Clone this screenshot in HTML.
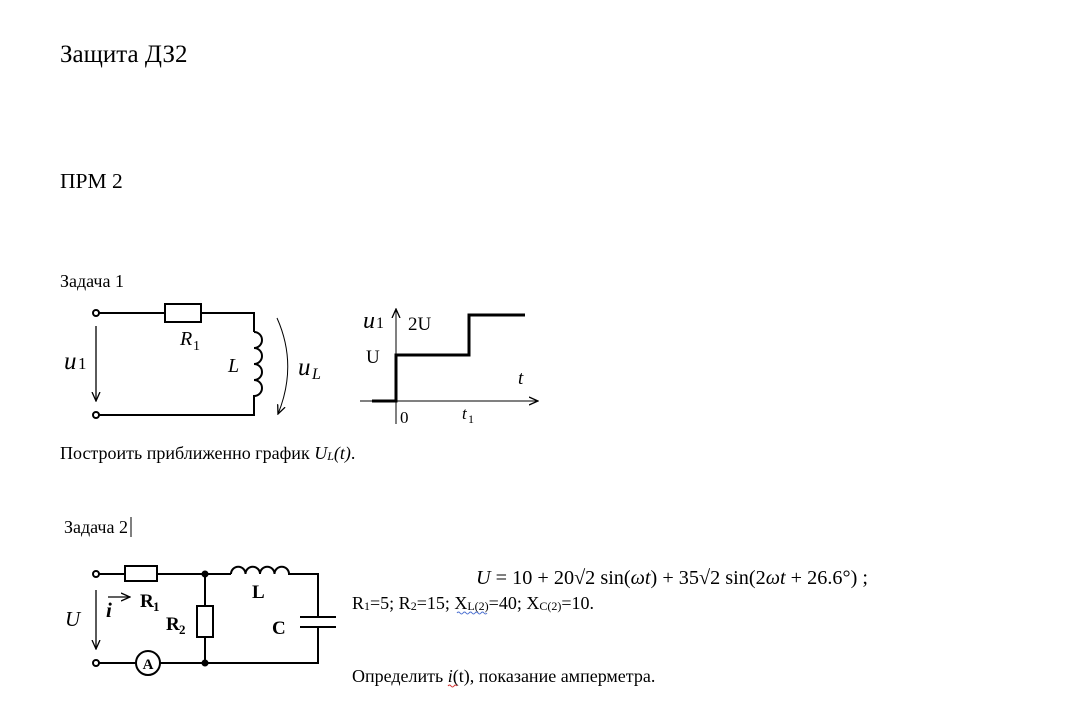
<!DOCTYPE html>
<html><head><meta charset="utf-8"><style>
html,body{margin:0;padding:0;background:#fff;width:1070px;height:714px;overflow:hidden}
svg{display:block}
text{font-family:"Liberation Serif","DejaVu Serif",serif;fill:#000}
</style></head><body>
<svg width="1070" height="714" viewBox="0 0 1070 714" xmlns="http://www.w3.org/2000/svg">
<defs>
<marker id="ah" markerWidth="10" markerHeight="10" refX="9" refY="5" orient="auto" markerUnits="userSpaceOnUse">
<path d="M0,1 L9,5 L0,9" fill="none" stroke="#000" stroke-width="1.3"/></marker>
</defs>
<text x="60" y="62" font-size="25">Защита ДЗ2</text>
<text x="60" y="188" font-size="21.5">ПРМ 2</text>
<text x="60" y="287" font-size="18">Задача 1</text>

<!-- circuit 1 -->
<g stroke="#000" stroke-width="2" fill="none">
<circle cx="96" cy="313" r="3" fill="#fff"/>
<circle cx="96" cy="415" r="3" fill="#fff"/>
<path d="M99,313 H165 M201,313 H254 V332"/>
<rect x="165" y="304" width="36" height="18"/>
<path d="M254,332 a8,8 0 0 1 0,16 a8,8 0 0 1 0,16 a8,8 0 0 1 0,16 a8,8 0 0 1 0,16 V415 H99"/>
</g>
<line x1="96" y1="326" x2="96" y2="401" stroke="#000" stroke-width="1.3" marker-end="url(#ah)"/>
<path d="M277,318 Q298,365 278,414" fill="none" stroke="#000" stroke-width="1" marker-end="url(#ah)"/>
<text x="64" y="369" font-size="25" font-style="italic">u</text><text x="78" y="369" font-size="17">1</text>
<text x="180" y="345" font-size="20" font-style="italic">R</text><text x="193" y="350" font-size="14">1</text>
<text x="228" y="372" font-size="20" font-style="italic">L</text>
<text x="298" y="375" font-size="25" font-style="italic">u</text><text x="312" y="379" font-size="16" font-style="italic">L</text>

<!-- graph -->
<line x1="360" y1="401" x2="538" y2="401" stroke="#000" stroke-width="1" marker-end="url(#ah)"/>
<line x1="396" y1="424" x2="396" y2="309" stroke="#000" stroke-width="1" marker-end="url(#ah)"/>
<path d="M372,401 H396 V355 H469 V315 H525" fill="none" stroke="#000" stroke-width="3"/>
<text x="363" y="328" font-size="24" font-style="italic">u</text><text x="376" y="328" font-size="16">1</text>
<text x="408" y="330" font-size="19">2U</text>
<text x="366" y="363" font-size="19">U</text>
<text x="518" y="384" font-size="19" font-style="italic">t</text>
<text x="400" y="423" font-size="17">0</text>
<text x="462" y="419" font-size="17" font-style="italic">t</text><text x="468" y="423" font-size="12">1</text>

<text x="60" y="459" font-size="18">Построить приближенно график <tspan font-style="italic">U<tspan font-size="12" dy="1">L</tspan><tspan dy="-1">(t)</tspan></tspan>.</text>

<text x="64" y="533" font-size="18">Задача 2</text>
<line x1="131" y1="517" x2="131" y2="537" stroke="#000" stroke-width="1"/>

<!-- circuit 2 -->
<g stroke="#000" stroke-width="2" fill="none">
<circle cx="96" cy="574" r="3" fill="#fff"/>
<circle cx="96" cy="663" r="3" fill="#fff"/>
<path d="M99,574 H125 M157,574 H231"/>
<rect x="125" y="566" width="32" height="15"/>
<path d="M231,574 a7.25,7.25 0 0 1 14.5,0 a7.25,7.25 0 0 1 14.5,0 a7.25,7.25 0 0 1 14.5,0 a7.25,7.25 0 0 1 14.5,0 H318 V617 M300,617 H336 M300,627 H336 M318,627 V663 H160 M136,663 H99"/>
<path d="M205,574 V606 M205,637 V663"/>
<rect x="197" y="606" width="16" height="31"/>
<circle cx="148" cy="663" r="12"/>
</g>
<circle cx="205" cy="574" r="3.5"/><circle cx="205" cy="663" r="3.5"/>
<text x="148" y="669" font-size="15" font-weight="bold" text-anchor="middle">A</text>
<line x1="96" y1="590" x2="96" y2="649" stroke="#000" stroke-width="1.3" marker-end="url(#ah)"/>
<line x1="108" y1="597" x2="130" y2="597" stroke="#000" stroke-width="1.3" marker-end="url(#ah)"/>
<text x="65" y="626" font-size="21" font-style="italic">U</text>
<text x="106" y="617" font-size="21" font-style="italic" font-weight="bold">i</text>
<text x="140" y="607" font-size="19" font-weight="bold">R</text><text x="153" y="611" font-size="13" font-weight="bold">1</text>
<text x="166" y="630" font-size="19" font-weight="bold">R</text><text x="179" y="634" font-size="13" font-weight="bold">2</text>
<text x="252" y="598" font-size="19" font-weight="bold">L</text>
<text x="272" y="634" font-size="19" font-weight="bold">C</text>

<text x="476" y="584" font-size="20" font-family="'DejaVu Serif',serif" textLength="392" lengthAdjust="spacingAndGlyphs"><tspan font-style="italic">U</tspan> = 10 + 20√2 sin(<tspan font-style="italic">ωt</tspan>) + 35√2 sin(2<tspan font-style="italic">ωt</tspan> + 26.6°) ;</text>
<text x="352" y="609" font-size="18">R<tspan font-size="12" dy="1">1</tspan><tspan dy="-1">=5; R</tspan><tspan font-size="12" dy="1">2</tspan><tspan dy="-1">=15; X</tspan><tspan font-size="12" dy="1">L(2)</tspan><tspan dy="-1">=40; X</tspan><tspan font-size="12" dy="1">C(2)</tspan><tspan dy="-1">=10.</tspan></text>
<path d="M457,613 q1.5,-2 3,0 t3,0 t3,0 t3,0 t3,0 t3,0 t3,0 t3,0 t3,0 t3,0" fill="none" stroke="#4a6fd0" stroke-width="1"/>
<text x="352" y="682" font-size="18">Определить <tspan font-style="italic">i</tspan>(t), показание амперметра.</text>
<path d="M448,686 q1.5,-2 3,0 t3,0 t3,0" fill="none" stroke="#d03030" stroke-width="1"/>
</svg>
</body></html>
